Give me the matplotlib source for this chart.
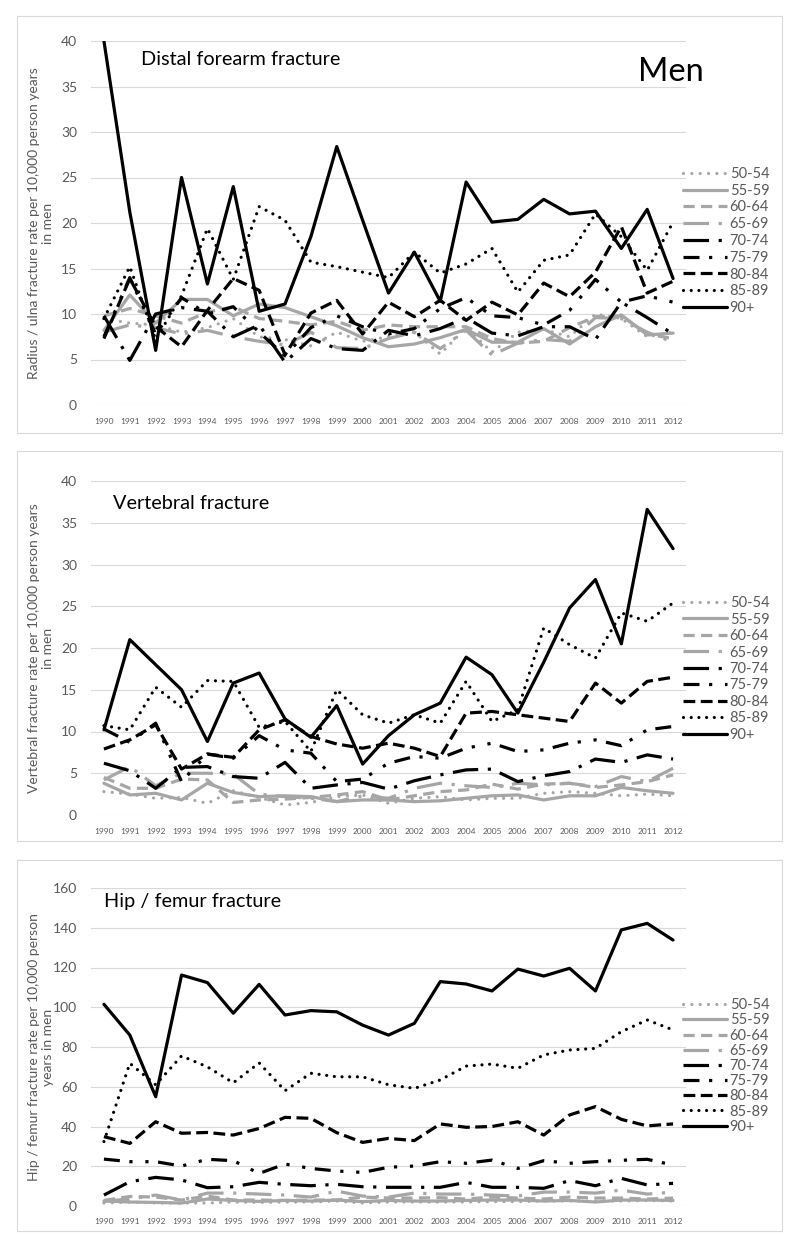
import numpy as np
import matplotlib
matplotlib.use('Agg')
import matplotlib.pyplot as plt
from matplotlib.patches import Rectangle

plt.rcParams['font.family'] = ['Lato', 'DejaVu Sans']

years = list(range(1990, 2013))
groups = ['50-54', '55-59', '60-64', '65-69', '70-74', '75-79', '80-84', '85-89', '90+']

# Distal forearm fracture (per 10,000 person years)
forearm_50 = [9.5, 9.0, 8.8, 8.0, 8.5, 9.5, 7.5, 7.2, 6.5, 8.0, 7.0, 7.5, 8.0, 5.6, 8.5, 5.8, 8.0, 8.3, 7.5, 10.0, 9.5, 7.5, 8.0]
forearm_55 = [8.2, 12.1, 9.0, 11.6, 11.6, 9.8, 11.1, 10.7, 9.7, 8.7, 7.4, 6.4, 6.7, 7.4, 8.3, 6.9, 6.9, 8.4, 6.7, 8.6, 9.9, 7.7, 7.9]
forearm_60 = [9.8, 10.6, 9.8, 9.0, 10.2, 10.8, 9.5, 9.2, 8.8, 9.2, 8.2, 8.8, 8.6, 8.6, 8.6, 7.3, 6.8, 7.0, 8.5, 9.7, 9.8, 7.8, 7.3]
forearm_65 = [8.0, 8.8, 8.5, 7.8, 8.2, 7.5, 7.0, 6.6, 8.0, 6.3, 6.2, 7.3, 8.0, 6.2, 8.2, 5.5, 6.8, 7.2, 7.0, 9.6, 9.5, 8.0, 6.9]
forearm_70 = [9.8, 4.9, 10.0, 10.7, 10.3, 7.5, 8.8, 4.7, 7.3, 6.2, 6.0, 8.2, 7.6, 8.4, 9.6, 7.9, 7.6, 8.6, 8.6, 7.2, 11.3, 9.6, 7.8]
forearm_75 = [7.5, 14.0, 7.8, 11.8, 10.0, 10.8, 8.0, 5.4, 8.5, 9.8, 8.6, 7.8, 8.4, 10.6, 11.8, 9.8, 9.6, 8.8, 10.4, 13.8, 11.3, 12.0, 11.3]
forearm_80 = [7.3, 13.9, 8.6, 6.4, 10.4, 13.9, 12.6, 5.5, 10.1, 11.5, 7.8, 11.3, 9.7, 11.5, 9.3, 11.3, 9.9, 13.4, 11.9, 14.6, 19.6, 12.3, 13.6]
forearm_85 = [9.5, 15.2, 7.2, 12.0, 19.4, 13.8, 21.8, 20.3, 15.7, 15.2, 14.6, 14.0, 16.8, 14.5, 15.5, 17.2, 12.4, 15.9, 16.5, 21.0, 18.5, 14.8, 20.1]
forearm_90 = [40.0, 21.2, 6.0, 25.0, 13.3, 24.0, 10.3, 11.1, 18.5, 28.4, 20.3, 12.3, 16.8, 11.4, 24.5, 20.1, 20.4, 22.6, 21.0, 21.3, 17.2, 21.5, 13.9]

# Vertebral fracture
vert_50 = [2.8, 2.5, 2.0, 2.1, 1.4, 2.9, 2.1, 1.2, 1.5, 2.2, 2.4, 1.4, 2.0, 2.2, 1.8, 2.0, 2.0, 2.6, 2.8, 2.6, 2.3, 2.5, 2.3]
vert_55 = [3.8, 2.4, 2.6, 1.8, 3.8, 2.7, 2.2, 2.3, 2.2, 1.6, 1.8, 1.8, 1.6, 1.7, 2.0, 2.3, 2.4, 1.8, 2.3, 2.3, 3.3, 2.9, 2.6]
vert_60 = [4.5, 3.2, 3.2, 4.3, 4.2, 1.5, 1.8, 1.9, 2.1, 2.4, 2.8, 1.8, 2.3, 2.8, 3.0, 3.7, 3.1, 3.7, 3.8, 3.3, 3.6, 4.0, 4.8]
vert_65 = [4.2, 5.8, 3.5, 5.0, 5.0, 4.9, 2.5, 2.2, 2.0, 1.6, 2.3, 2.0, 3.2, 3.8, 3.5, 3.3, 3.8, 3.6, 3.8, 3.4, 4.6, 4.0, 5.6]
vert_70 = [6.2, 5.3, 3.2, 5.7, 5.8, 4.6, 4.4, 6.3, 3.2, 3.6, 3.9, 3.1, 4.1, 4.8, 5.4, 5.5, 4.0, 4.7, 5.2, 6.7, 6.3, 7.2, 6.7]
vert_75 = [10.3, 8.7, 11.0, 4.0, 7.3, 6.8, 9.5, 7.8, 7.4, 4.0, 4.3, 6.2, 7.0, 6.8, 8.0, 8.6, 7.6, 7.8, 8.6, 9.0, 8.3, 10.2, 10.6]
vert_80 = [7.9, 9.0, 10.8, 5.5, 7.3, 6.9, 10.2, 11.4, 9.4, 8.5, 8.0, 8.6, 8.0, 7.0, 12.2, 12.4, 12.0, 11.6, 11.2, 15.8, 13.4, 16.0, 16.5]
vert_85 = [10.7, 10.2, 15.3, 12.9, 16.1, 16.0, 10.5, 11.2, 7.6, 15.0, 12.0, 11.0, 12.0, 11.0, 16.0, 11.2, 12.6, 22.4, 20.4, 18.8, 24.2, 23.2, 25.4]
vert_90 = [10.2, 21.0, 18.0, 15.0, 8.8, 15.8, 17.0, 11.5, 9.3, 13.1, 6.1, 9.5, 12.0, 13.4, 18.9, 16.8, 12.2, 18.3, 24.8, 28.2, 20.5, 36.6, 31.9]

# Hip / femur fracture
hip_50 = [1.5, 2.0, 1.5, 1.5, 1.5, 2.0, 1.8, 2.0, 2.0, 2.5, 1.5, 2.0, 2.0, 2.0, 2.0, 2.2, 2.2, 2.5, 2.5, 2.5, 2.5, 2.8, 2.5]
hip_55 = [2.5, 2.0, 1.8, 1.5, 3.5, 2.8, 2.3, 2.8, 2.5, 3.0, 2.2, 2.8, 2.5, 2.5, 2.8, 3.0, 3.0, 2.5, 2.8, 2.0, 3.0, 3.0, 2.8]
hip_60 = [2.8, 4.8, 4.5, 3.0, 5.0, 3.0, 3.0, 2.8, 3.0, 3.0, 4.5, 4.0, 4.0, 4.2, 3.5, 4.5, 4.0, 3.5, 4.5, 4.0, 4.0, 3.5, 4.0]
hip_65 = [2.5, 3.5, 5.5, 3.0, 6.5, 6.5, 6.0, 5.5, 4.5, 7.5, 5.0, 4.5, 6.5, 6.0, 6.0, 5.5, 5.0, 7.0, 7.0, 6.5, 8.0, 6.0, 7.0]
hip_70 = [5.5, 12.2, 14.4, 13.1, 9.2, 9.7, 11.9, 10.9, 10.2, 10.9, 9.7, 9.4, 9.4, 9.4, 11.9, 9.4, 9.4, 8.9, 12.8, 10.2, 13.9, 10.6, 11.4]
hip_75 = [23.6, 22.3, 22.3, 20.1, 23.5, 22.8, 16.4, 21.1, 18.9, 17.6, 16.9, 19.5, 20.1, 22.3, 21.5, 23.1, 18.9, 22.8, 21.5, 22.3, 23.0, 23.5, 20.6]
hip_80 = [34.9, 31.5, 42.4, 36.6, 37.0, 35.7, 39.0, 44.6, 44.1, 36.9, 32.0, 34.0, 32.9, 41.3, 39.6, 40.0, 42.4, 35.7, 45.8, 50.0, 43.6, 40.3, 41.3]
hip_85 = [32.4, 71.8, 61.0, 75.5, 70.0, 62.0, 72.0, 58.0, 66.8, 65.0, 65.0, 61.0, 59.2, 63.4, 70.4, 71.4, 69.3, 76.0, 78.5, 79.3, 87.7, 93.6, 88.6]
hip_90 = [101.5, 86.0, 55.0, 116.2, 112.4, 97.0, 111.5, 96.1, 98.3, 97.7, 91.0, 86.0, 91.9, 112.9, 111.7, 108.2, 119.2, 115.7, 119.6, 108.2, 138.9, 142.2, 133.8]

W, H = 800, 1244
GRAY = '#A6A6A6'
TXT = '#595959'
GRID = '#D9D9D9'

# colour, dash pattern (None = solid), cap style
STYLES = {
    '50-54': (GRAY, (0.01, 2.6), 'round'),
    '55-59': (GRAY, None, 'round'),
    '60-64': (GRAY, (3.5, 2.0), 'butt'),
    '65-69': (GRAY, (8, 3, 1, 3), 'butt'),
    '70-74': ('black', (8, 3, 1, 3), 'butt'),
    '75-79': ('black', (5, 3, 1, 4, 1, 3), 'butt'),
    '80-84': ('black', (3.7, 1.7), 'butt'),
    '85-89': ('black', (0.01, 2.4), 'round'),
    '90+': ('black', None, 'round'),
}


def px_box(left, top, right, bottom):
    return [left / W, 1 - bottom / H, (right - left) / W, (bottom - top) / H]


def draw_panel(fig, series, box, frame, ymax, ystep, ylabel, title, title_xy, legend_y, spacing):
    # outer chart frame
    fig.add_artist(Rectangle((frame[0] / W, 1 - frame[3] / H), (frame[2] - frame[0]) / W,
                             (frame[3] - frame[1]) / H, transform=fig.transFigure,
                             fill=False, edgecolor=GRID, lw=0.8))
    ax = fig.add_axes(px_box(*box))
    x = np.arange(len(years))
    for g, vals in zip(groups, series):
        color, dashes, cap = STYLES[g]
        ln, = ax.plot(x, vals, color=color, lw=2.3, label=g,
                      solid_capstyle='round', solid_joinstyle='round')
        if dashes is not None:
            ln.set_dashes(dashes)
            ln.set_dash_capstyle(cap)
    ax.set_xlim(-0.5, len(years) - 0.5)
    ax.set_ylim(0, ymax)
    ax.set_yticks(np.arange(0, ymax + 1, ystep))
    ax.set_xticks(x)
    ax.set_xticklabels([str(y) for y in years], fontsize=6, color=TXT)
    ax.tick_params(axis='y', labelsize=10, labelcolor=TXT, length=0, pad=10)
    ax.tick_params(axis='x', length=0, pad=9)
    for s in ax.spines.values():
        s.set_visible(False)
    ax.yaxis.grid(True, color=GRID, lw=0.8)
    ax.set_axisbelow(True)
    ax.text(-0.084, 0.5, ylabel, transform=ax.transAxes, rotation=90, ha='center', va='center',
            multialignment='center', fontsize=10, color=TXT, linespacing=1.25)
    fig.text(title_xy[0] / W, 1 - title_xy[1] / H, title, fontsize=14.3, va='baseline')
    ax.legend(loc='center left', bbox_to_anchor=(683 / W, 1 - legend_y / H),
              bbox_transform=fig.transFigure, frameon=False, fontsize=10.5,
              labelcolor=TXT, handlelength=3.05, handletextpad=0.15,
              labelspacing=spacing, borderpad=0, borderaxespad=0)
    return ax


fig = plt.figure(figsize=(W / 100, H / 100), dpi=100)

draw_panel(fig, [forearm_50, forearm_55, forearm_60, forearm_65, forearm_70, forearm_75,
                 forearm_80, forearm_85, forearm_90],
           (91, 41, 686, 405), (17, 16, 782, 433), 40, 5,
           'Radius / ulna fracture rate per 10,000 person years\nin men',
           'Distal forearm fracture', (141, 65), 241, 0.19)
fig.text(638 / W, 1 - 81 / H, 'Men', fontsize=23.5, va='baseline')

draw_panel(fig, [vert_50, vert_55, vert_60, vert_65, vert_70, vert_75, vert_80, vert_85, vert_90],
           (91, 481, 686, 815), (17, 451, 782, 841), 40, 5,
           'Vertebral fracture rate per 10,000 person years\nin men',
           'Vertebral fracture', (113, 509), 669, 0.17)

draw_panel(fig, [hip_50, hip_55, hip_60, hip_65, hip_70, hip_75, hip_80, hip_85, hip_90],
           (91, 888, 686, 1206), (17, 860, 782, 1231), 160, 20,
           'Hip / femur fracture rate per 10,000 person\nyears in men',
           'Hip / femur fracture', (104, 907), 1066, 0.08)

fig.savefig('out.png', dpi=100)
